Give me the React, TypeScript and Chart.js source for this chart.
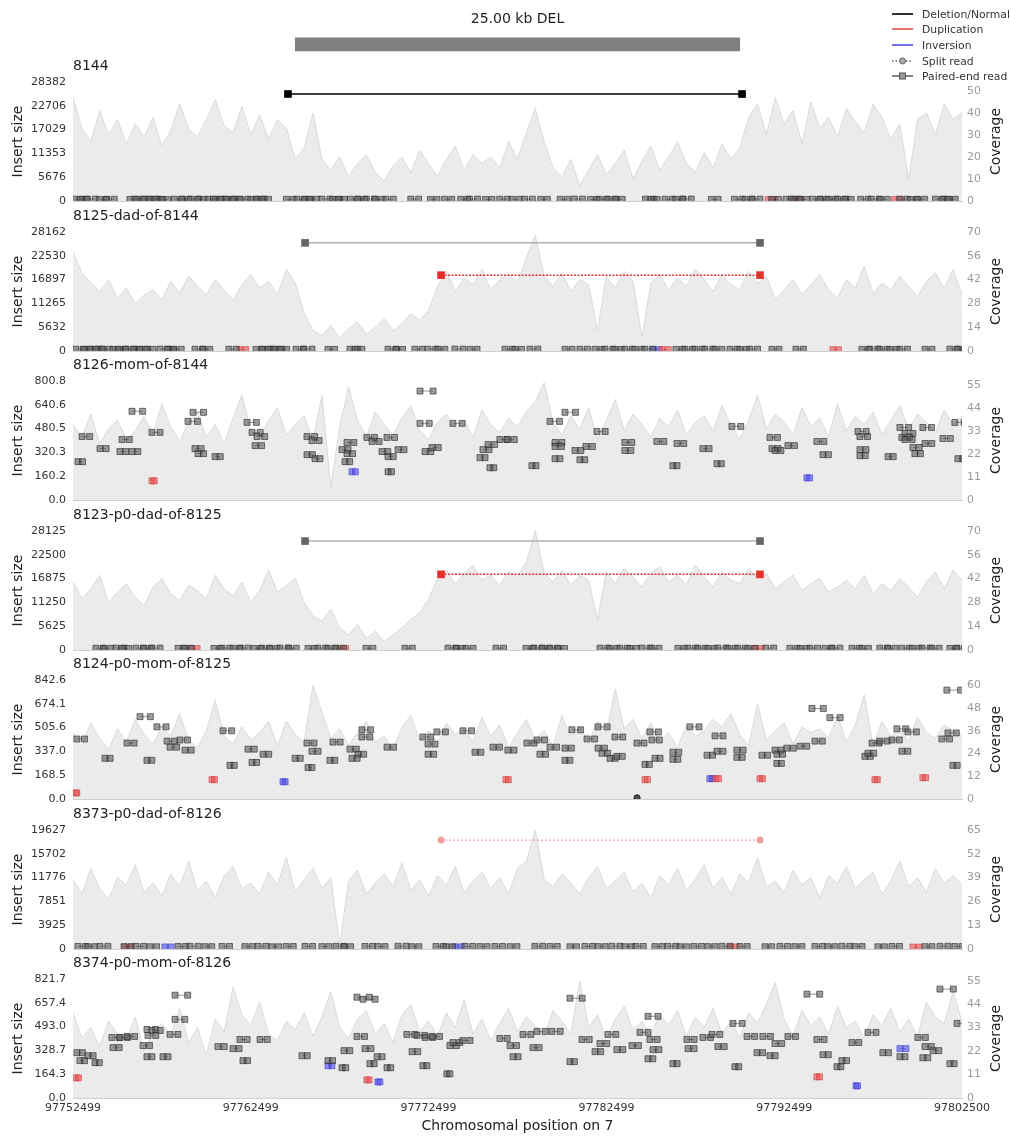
import React, { useEffect, useRef } from "react";
import { Chart, registerables } from "chart.js";
Chart.register(...registerables);

const FONT = '"DejaVu Sans", "Liberation Sans", sans-serif';
Chart.defaults.font.family = FONT;

// ---------------- data ----------------
const START = 97752499;
const END = 97802500;
const DEL_START = 97765000;
const DEL_END = 97790000;
const DEL_LABEL = "25.00 kb DEL";
const X_TICKS = [97752499, 97762499, 97772499, 97782499, 97792499, 97802500];
const X_TITLE = "Chromosomal position on 7";
const Y_TITLE = "Insert size";
const Y2_TITLE = "Coverage";
const COV_STEP_BP = 500;

const PANEL_TITLES = [
  "8144",
  "8125-dad-of-8144",
  "8126-mom-of-8144",
  "8123-p0-dad-of-8125",
  "8124-p0-mom-of-8125",
  "8373-p0-dad-of-8126",
  "8374-p0-mom-of-8126",
];

const INSERT_TICKS = [
  ["0", "5676", "11353", "17029", "22706", "28382"],
  ["0", "5632", "11265", "16897", "22530", "28162"],
  ["0.0", "160.2", "320.3", "480.5", "640.6", "800.8"],
  ["0", "5625", "11250", "16875", "22500", "28125"],
  ["0.0", "168.5", "337.0", "505.6", "674.1", "842.6"],
  ["0", "3925", "7851", "11776", "15702", "19627"],
  ["0.0", "164.3", "328.7", "493.0", "657.4", "821.7"],
];
const COVERAGE_TICKS = [
  [0, 10, 20, 30, 40, 50],
  [0, 14, 28, 42, 56, 70],
  [0, 11, 22, 33, 44, 55],
  [0, 14, 28, 42, 56, 70],
  [0, 12, 24, 36, 48, 60],
  [0, 13, 26, 39, 52, 65],
  [0, 11, 22, 33, 44, 55],
];
const COVERAGE_MAX = [54, 70, 56.8, 70, 62.7, 65, 55.8];

// coverage, one value per 500 bp
const COV_8144 = [
  47, 33, 27, 41, 30, 37, 26, 35, 29, 38, 25, 32, 44, 33, 29, 37, 46, 34, 31, 43, 30, 39, 28, 37,
  33, 19, 24, 40, 19, 14, 20, 11, 17, 21, 13, 9, 16, 20, 13, 23, 17, 11, 19, 25,
  14, 21, 17, 20, 15, 27, 19, 31, 42, 27, 15, 11, 19, 7, 14, 21, 12, 17, 23, 10,
  18, 25, 14, 20, 27, 17, 13, 22, 15, 26, 19, 24,
  38, 44, 30, 47, 35, 41, 26, 45, 33, 38, 29, 42, 36, 31, 44, 38, 28, 35, 10, 37, 40, 30, 44, 37, 40,
];
const COV_8125 = [
  58, 46, 40, 35, 42, 31, 37, 28, 33, 36, 30, 41, 34, 44, 38, 33, 42, 36, 30, 39, 45, 37, 41, 33, 48, 40,
  22, 12, 9, 15, 8, 13, 17, 10, 14, 19, 12, 16, 22, 18, 24,
  38, 47, 35, 43, 39, 48, 36, 42, 45, 40, 55, 68, 44, 38, 46, 35, 42, 39, 12, 44,
  37, 47, 41, 8, 40, 45, 36, 43, 38, 48, 42, 35, 45, 39, 36, 47, 40, 44, 30, 36,
  42, 33, 39, 45, 36, 31, 42, 37, 50, 34, 40, 36, 44, 38, 32, 41, 46, 37, 48, 33,
];
const COV_8126 = [
  36, 30, 41, 27, 34, 38, 29, 33, 40, 31, 46, 35, 28, 37, 42, 30, 36, 27, 39, 50,
  33, 29, 38, 44, 31, 36, 40, 28, 50, 6, 35, 54, 38, 30, 42, 36, 31, 39, 45, 33,
  29, 37, 41, 34, 38, 30, 43, 36, 32, 39, 35, 42, 47, 56, 37, 31, 40, 34, 44, 29,
  38, 48, 33, 41, 36, 30, 39, 35, 43, 31, 37, 40, 33, 45, 36, 29, 38, 50, 34, 41,
  37, 31, 44, 35, 39, 30, 46, 33, 40, 36, 42, 31, 38, 45, 34, 41, 37, 32, 43, 36, 40,
];
const COV_8123 = [
  40, 30, 36, 44, 28, 34, 39, 31, 26, 37, 42, 33, 29, 38, 35, 30, 44, 36, 32, 40, 28, 35, 47, 34, 38, 42,
  28, 20, 17, 24, 13, 9, 15, 7, 11, 5, 9, 13, 18, 22, 30,
  42, 47, 39, 45, 50, 41, 44, 38, 46, 43, 52, 70, 45, 40, 47, 38, 44, 41, 18, 46,
  39, 48, 43, 37, 45, 49, 40, 44, 38, 50, 43, 37, 46, 41, 39, 48, 42, 45, 36, 40,
  44, 35, 39, 42, 34, 37, 41, 36, 44, 33, 39, 35, 42, 37, 31, 40, 46, 36, 47, 41,
];
const COV_8124 = [
  35, 28, 40, 32, 26, 37, 30, 42, 34, 29, 38, 33, 45, 31, 27, 36, 52, 33, 29, 38,
  31, 35, 41, 28, 41, 34, 30, 60, 46, 32, 37, 28, 35, 41, 30, 33, 26, 38, 44, 31,
  36, 29, 40, 34, 37, 30, 43, 33, 39, 27, 35, 42, 31, 36, 28, 44, 33, 38, 30, 41,
  35, 58, 37, 42, 32, 40, 30, 35, 27, 39, 33, 36, 42, 38, 45, 34, 28, 50, 31, 36,
  40, 29, 38, 35, 37, 32, 44, 30, 39, 55, 28, 41, 33, 37, 30, 43, 35, 32, 39, 36, 34,
];
const COV_8373 = [
  38, 30, 44, 33, 27, 39, 35, 46, 31, 36, 29, 41, 34, 48, 32, 37, 28, 40, 45, 33,
  36, 30, 42, 35, 50, 31, 38, 44, 33, 39, 2, 37, 43, 30, 36, 41, 34, 47, 32, 38,
  29, 40, 35, 45, 31, 37, 42, 33, 39, 30, 44, 48, 65, 38, 34, 41, 36, 30, 39, 45,
  33, 37, 42, 31, 36, 28, 40, 35, 44, 32, 38, 46, 33, 39, 30, 41, 36, 50, 34, 37,
  31, 43, 35, 39, 28, 40, 36, 45, 33, 38, 42, 30, 37, 48, 34, 39, 31, 44, 36, 40, 35,
];
const COV_8374 = [
  40, 28, 33, 24, 36, 30, 27, 38, 22, 31, 35, 29, 42, 26, 33, 20, 37, 31, 52, 39,
  34, 45, 30, 27, 36, 32, 40, 29, 38, 50, 33, 28, 37, 41, 30, 35, 26, 39, 44, 31,
  36, 29, 40, 33, 46, 30, 37, 27, 35, 42, 31, 38, 34, 29, 41, 36, 30, 55, 33, 39,
  28, 37, 43, 32, 36, 30, 39, 34, 41, 29, 38, 33, 42, 30, 36, 28, 40, 35, 44, 54,
  37, 29, 41, 34, 38, 30, 43, 33, 36, 28, 39, 34, 42, 31, 37, 29, 45, 38, 35, 50, 36,
];

// read pairs: [offset from START in kb, insert size in bp]
const NORMAL_8144 = [
  [0.1, 410], [0.4, 380], [0.8, 450], [1.5, 360], [1.9, 420], [3.2, 390], [3.5, 440], [4.0, 370], [4.3, 460], [4.6, 400],
  [5.0, 350], [5.7, 430], [6.1, 395], [6.6, 470], [7.0, 380], [7.6, 415], [7.9, 440], [8.3, 365], [8.6, 455], [9.0, 390],
  [9.4, 420], [10.0, 375], [10.3, 445], [10.6, 400], [12.0, 385], [12.6, 430], [13.0, 360], [13.3, 410], [14.0, 450], [14.6, 395],
  [14.9, 370], [15.6, 425], [16.0, 400], [16.5, 460], [17.0, 380], [17.6, 415], [19.0, 440], [20.1, 370], [20.9, 405], [21.8, 390],
  [22.3, 450], [23.2, 365], [24.0, 420], [24.7, 395], [25.4, 435], [26.3, 380], [27.4, 410], [28.2, 455], [29.1, 370], [29.6, 400],
  [30.1, 425], [30.5, 390], [32.2, 445], [32.5, 360], [33.3, 415], [33.9, 400], [34.3, 470], [35.9, 385], [37.2, 420], [37.8, 395],
  [38.2, 440], [39.3, 375], [40.1, 410], [40.4, 450], [40.9, 365], [41.6, 430], [42.0, 400], [42.5, 385], [43.0, 455], [43.4, 370],
  [44.3, 415], [44.9, 440], [45.4, 390], [46.5, 425], [47.1, 360], [47.5, 405], [48.5, 445], [48.9, 380], [49.2, 420],
];
const DUP_8144 = [[39.1, 350], [40.6, 320], [46.2, 380]];

const NORMAL_8125 = [
  [0.17, 420], [0.62, 380], [0.96, 450], [1.29, 395], [1.63, 430], [2.25, 365], [2.53, 410], [2.98, 445], [3.37, 375], [3.77, 420],
  [4.11, 390], [4.89, 460], [5.29, 370], [5.68, 405], [6.86, 435], [7.31, 385], [8.77, 415], [10.29, 360], [10.63, 440], [10.97, 395],
  [11.3, 425], [11.64, 380], [12.54, 410], [12.99, 450], [14.34, 375], [15.58, 420], [15.86, 390], [17.72, 440], [18.17, 365], [19.23, 405],
  [19.97, 430], [20.53, 385], [21.48, 455], [22.33, 395], [24.3, 410], [24.86, 370], [25.7, 440], [27.67, 400], [28.51, 425], [29.36, 380],
  [29.92, 445], [30.48, 360], [31.04, 415], [31.6, 390], [32.17, 435], [33.91, 375], [34.42, 420], [34.98, 400], [35.54, 450], [36.11, 385],
  [36.95, 410], [37.51, 365], [38.07, 430], [39.31, 395], [40.66, 420], [44.37, 380], [44.82, 445], [45.38, 400], [45.95, 370], [46.51, 425],
  [47.92, 390], [49.32, 440], [49.72, 405],
];
const DUP_8125 = [[9.39, 330], [33.13, 350], [42.74, 310]];
const INV_8125 = [[32.62, 340]];

const NORMAL_8126 = [
  [0.51, 427], [0.28, 258], [3.32, 597], [2.76, 407], [1.52, 346], [2.64, 326], [3.32, 326], [4.44, 455], [6.75, 590], [6.47, 529],
  [6.86, 346], [7.03, 312], [7.99, 292], [9.79, 522], [10.07, 455], [10.35, 427], [10.24, 366], [13.16, 427], [13.44, 400], [13.16, 305],
  [13.61, 278], [15.13, 339], [15.41, 312], [15.3, 258], [15.41, 387], [16.53, 421], [16.82, 394], [17.66, 421], [17.38, 326], [17.72, 292],
  [17.72, 190], [18.28, 339], [19.52, 733], [19.52, 516], [21.37, 516], [19.8, 326], [20.19, 353], [22.89, 285], [23.06, 339], [23.34, 373],
  [23.45, 217], [24.01, 407], [24.41, 407], [25.81, 231], [26.83, 529], [27.11, 387], [27.11, 360], [27.11, 278], [27.67, 590], [28.23, 333],
  [28.51, 271], [28.85, 360], [29.47, 461], [31.04, 387], [31.04, 333], [32.84, 394], [33.97, 380], [33.74, 231], [35.43, 346], [36.22, 244],
  [37.06, 495], [39.2, 421], [39.31, 346], [39.48, 333], [40.21, 366], [41.84, 394], [42.18, 305], [44.15, 461], [44.26, 427], [44.26, 339],
  [44.26, 298], [45.84, 292], [46.51, 488], [46.79, 448], [46.62, 421], [46.79, 407], [47.24, 353], [47.35, 312], [47.8, 488], [47.92, 380],
  [48.93, 414], [49.6, 522], [49.77, 278],
];
const DUP_8126 = [[4.44, 129]];
const INV_8126 = [[15.69, 190], [41.28, 149]];

const NORMAL_8123 = [
  [1.29, 410], [1.74, 385], [2.42, 440], [2.76, 370], [3.54, 425], [3.99, 395], [4.44, 455], [5.91, 380], [6.24, 415], [7.93, 360],
  [8.38, 430], [9.0, 400], [9.39, 445], [10.18, 375], [10.63, 420], [11.08, 390], [11.64, 460], [12.15, 405], [13.22, 370], [13.78, 435],
  [14.34, 395], [14.79, 420], [16.48, 385], [18.67, 410], [21.09, 440], [21.54, 365], [22.1, 400], [23.79, 425], [25.48, 380], [25.93, 450],
  [26.38, 395], [26.83, 415], [27.28, 370], [29.64, 435], [30.2, 390], [30.76, 420], [31.32, 360], [32.0, 445], [32.56, 400], [34.02, 385],
  [34.59, 430], [35.15, 410], [35.71, 375], [36.27, 455], [36.84, 395], [37.4, 420], [37.96, 380], [38.97, 440], [40.32, 400], [40.89, 365],
  [41.45, 425], [42.29, 390], [42.69, 445], [43.81, 410], [44.37, 375], [45.38, 430], [45.84, 395], [46.62, 420], [47.19, 385], [47.75, 450],
  [48.31, 405], [49.32, 370], [49.72, 425],
];
const DUP_8123 = [[6.64, 340], [15.02, 320], [38.36, 350]];

const NORMAL_8124 = [
  [0.22, 425], [1.8, 288], [3.04, 396], [3.77, 583], [4.72, 511], [4.16, 274], [5.29, 410], [5.46, 367], [6.02, 418], [6.3, 346],
  [8.44, 483], [8.83, 238], [9.84, 353], [10.07, 259], [10.69, 317], [12.49, 288], [13.16, 396], [13.44, 338], [13.22, 223], [14.45, 274],
  [14.62, 403], [15.58, 353], [16.03, 317], [15.69, 288], [16.25, 490], [16.25, 439], [17.66, 367], [19.68, 439], [19.97, 389], [19.97, 317],
  [20.47, 475], [21.93, 483], [22.61, 331], [23.62, 367], [24.46, 346], [25.53, 396], [26.1, 418], [26.26, 317], [26.83, 367], [27.67, 360],
  [27.67, 274], [28.06, 490], [28.91, 425], [29.53, 360], [29.75, 324], [29.53, 511], [30.2, 288], [30.59, 302], [30.48, 439], [31.72, 396],
  [32.45, 475], [32.56, 418], [32.17, 245], [32.73, 288], [33.74, 331], [33.74, 281], [34.7, 511], [35.66, 310], [36.11, 447], [36.22, 338],
  [37.34, 346], [37.34, 295], [38.75, 310], [39.48, 346], [39.59, 317], [39.59, 252], [40.15, 360], [40.89, 374], [41.56, 641], [41.73, 410],
  [42.57, 576], [44.54, 302], [44.71, 324], [44.94, 396], [45.38, 410], [46.06, 418], [46.34, 497], [46.62, 338], [46.96, 475], [48.87, 425],
  [49.21, 468], [49.15, 771], [49.49, 238],
];
const DUP_8124 = [[0.17, 43], [7.82, 137], [24.35, 137], [32.17, 137], [36.16, 144], [38.64, 144], [45.1, 137], [47.8, 151]];
const INV_8124 = [[11.81, 122], [35.82, 144]];
const SPLIT_READS_8124 = [[31.72, 8]];

const NORMAL_8373 = [
  [0.28, 415], [0.84, 380], [1.52, 440], [2.87, 395], [3.54, 425], [4.33, 370], [5.91, 410], [6.58, 450], [7.42, 385], [8.38, 420],
  [9.67, 395], [10.41, 435], [11.19, 365], [11.98, 405], [13.05, 430], [14.0, 390], [14.79, 445], [15.24, 375], [16.42, 420], [17.15, 400],
  [18.28, 455], [19.07, 380], [20.42, 410], [20.98, 365], [22.05, 430], [22.89, 395], [23.73, 420], [24.58, 385], [25.98, 440], [26.83, 405],
  [27.95, 370], [28.79, 425], [29.53, 395], [30.31, 450], [31.04, 380], [31.66, 415], [32.73, 400], [33.46, 435], [34.14, 370], [34.92, 420],
  [35.71, 390], [36.5, 445], [37.51, 405], [38.92, 375], [39.76, 430], [40.6, 395], [41.73, 415], [42.46, 385], [43.25, 440], [43.98, 400],
  [45.27, 365], [46.06, 425], [47.92, 390], [48.76, 445], [49.6, 410],
];
const DUP_8373 = [[2.92, 330], [36.95, 350], [47.24, 320]];
const INV_8373 = [[5.17, 340], [21.48, 360]];

const NORMAL_8374 = [
  [0.22, 313], [0.39, 258], [0.84, 292], [1.24, 244], [2.25, 348], [2.19, 418], [2.64, 418], [3.04, 425], [3.94, 362], [4.16, 473],
  [4.44, 466], [4.22, 432], [4.16, 285], [5.06, 285], [5.46, 439], [5.74, 710], [5.74, 543], [8.15, 355], [9.0, 341], [9.39, 404],
  [9.56, 258], [10.52, 404], [12.88, 292], [14.34, 258], [15.13, 209], [15.24, 327], [15.97, 425], [15.97, 696], [16.31, 682], [16.42, 341],
  [16.7, 237], [17.1, 285], [17.66, 209], [18.78, 439], [19.35, 432], [19.8, 418], [20.19, 425], [19.07, 320], [19.68, 223], [21.03, 167],
  [21.2, 362], [21.37, 383], [21.93, 397], [24.01, 411], [24.58, 362], [24.75, 285], [25.31, 439], [25.87, 348], [26.1, 460], [26.94, 460],
  [27.95, 689], [27.95, 251], [28.63, 404], [29.36, 320], [29.64, 376], [30.09, 439], [30.59, 334], [31.44, 362], [31.89, 453], [32.34, 564],
  [32.45, 404], [32.62, 334], [32.34, 271], [33.74, 237], [34.53, 404], [35.43, 418], [34.59, 341], [35.94, 439], [36.27, 355], [37.12, 515],
  [37.23, 216], [37.91, 425], [38.8, 425], [38.47, 313], [39.2, 292], [39.48, 376], [40.21, 425], [41.28, 717], [41.84, 404], [42.18, 299],
  [42.97, 216], [43.25, 258], [43.81, 383], [44.71, 453], [45.55, 313], [46.51, 285], [47.52, 418], [47.92, 355], [47.8, 278], [48.37, 327],
  [48.76, 752], [49.32, 237], [49.72, 515],
];
const DUP_8374 = [[0.17, 139], [16.53, 125], [41.84, 146]];
const INV_8374 = [[14.34, 223], [17.15, 111], [44.04, 84], [46.51, 341]];

// SV evidence lines: [start offset kb, end offset kb, size bp]
const PE_LINE_8144 = [[12.09, 37.63, 25520]];
const PE_LINE_8125 = [[13.05, 38.64, 25590]];
const SPLIT_LINE_8125 = [[20.7, 38.64, 17950]];
const PE_LINE_8123 = [[13.05, 38.64, 25742]];
const SPLIT_LINE_8123 = [[20.7, 38.64, 17876]];
const SPLIT_LINE_8373 = [[20.7, 38.64, 17964]];

const LEGEND_LABELS = ["Deletion/Normal", "Duplication", "Inversion", "Split read", "Paired-end read"];

// ---------------- styling / layout ----------------
const WIDTH = 1011;
const PLOT_LEFT = 73;
const RIGHT_AXIS_W = WIDTH - 962;
const FIRST_TOP = 82;
const PANEL_STEP = 149.5;
const PLOT_H = 119;
const TITLE_H = 28;
const BOTTOM_PAD = 16;

const COV_FILL = "#ebebeb";
const COV_LINE = "#dadada";
const NORMAL_STYLE = { fill: "rgba(90,90,90,0.58)", edge: "rgba(40,40,40,0.62)", line: "rgba(70,70,70,0.55)" };
const DUP_STYLE = { fill: "rgba(235,80,80,0.6)", edge: "rgba(210,60,60,0.6)", line: "rgba(210,60,60,0.6)" };
const INV_STYLE = { fill: "rgba(80,80,235,0.6)", edge: "rgba(60,60,210,0.6)", line: "rgba(60,60,210,0.6)" };
const SPLIT_STYLE = { fill: "rgba(70,70,70,0.8)", edge: "rgba(40,40,40,0.8)", line: "rgba(40,40,40,0.8)" };

type Pair = number[];
interface LineEv { data: Pair[]; color: string; marker: string; style: "rect" | "circle"; dash: number[]; width: number }
interface PanelDef {
  cov: number[];
  normal: Pair[];
  dup: Pair[];
  inv: Pair[];
  split: Pair[];
  lines: LineEv[];
}

const PANELS: PanelDef[] = [
  { cov: COV_8144, normal: NORMAL_8144, dup: DUP_8144, inv: [], split: [],
    lines: [{ data: PE_LINE_8144, color: "#000000", marker: "#000000", style: "rect", dash: [], width: 1.5 }] },
  { cov: COV_8125, normal: NORMAL_8125, dup: DUP_8125, inv: INV_8125, split: [],
    lines: [
      { data: PE_LINE_8125, color: "#b0b0b0", marker: "#666666", style: "rect", dash: [], width: 1.5 },
      { data: SPLIT_LINE_8125, color: "#e8302c", marker: "#e8302c", style: "rect", dash: [2, 1.5], width: 1.5 },
    ] },
  { cov: COV_8126, normal: NORMAL_8126, dup: DUP_8126, inv: INV_8126, split: [], lines: [] },
  { cov: COV_8123, normal: NORMAL_8123, dup: DUP_8123, inv: [], split: [],
    lines: [
      { data: PE_LINE_8123, color: "#b0b0b0", marker: "#666666", style: "rect", dash: [], width: 1.5 },
      { data: SPLIT_LINE_8123, color: "#e8302c", marker: "#e8302c", style: "rect", dash: [2, 1.5], width: 1.5 },
    ] },
  { cov: COV_8124, normal: NORMAL_8124, dup: DUP_8124, inv: INV_8124, split: SPLIT_READS_8124, lines: [] },
  { cov: COV_8373, normal: NORMAL_8373, dup: DUP_8373, inv: INV_8373, split: [],
    lines: [{ data: SPLIT_LINE_8373, color: "rgba(240,150,150,0.9)", marker: "rgba(240,150,150,0.9)", style: "circle", dash: [2, 2], width: 1.2 }] },
  { cov: COV_8374, normal: NORMAL_8374, dup: DUP_8374, inv: INV_8374, split: [], lines: [] },
];

function pairData(pairs: Pair[]) {
  const out: { x: number; y: number | null }[] = [];
  for (const [kb, ins] of pairs) {
    const s = START + kb * 1000;
    out.push({ x: s, y: ins }, { x: s + ins, y: ins }, { x: s + ins, y: null });
  }
  return out;
}
function lineData(lines: Pair[]) {
  const out: { x: number; y: number | null }[] = [];
  for (const [a, b, size] of lines) {
    out.push({ x: START + a * 1000, y: size }, { x: START + b * 1000, y: size }, { x: START + b * 1000, y: null });
  }
  return out;
}
function pairDataset(pairs: Pair[], st: { fill: string; edge: string; line: string }, shape = "rect", dash: number[] = []) {
  return {
    type: "scatter",
    data: pairData(pairs),
    showLine: true,
    spanGaps: false,
    borderColor: st.line,
    borderWidth: 1,
    borderDash: dash,
    pointStyle: shape,
    pointRadius: shape === "rect" ? 4.2 : 3,
    pointBackgroundColor: st.fill,
    pointBorderColor: st.edge,
    pointBorderWidth: 1,
    yAxisID: "y",
    order: 1,
  };
}

const rightTitlePlugin = {
  id: "rightTitle",
  afterDraw(chart: any, _args: any, opts: any) {
    if (!opts || !opts.text) return;
    const { ctx, chartArea } = chart;
    ctx.save();
    ctx.font = `14px ${FONT}`;
    ctx.fillStyle = "#222";
    ctx.textAlign = "center";
    ctx.textBaseline = "middle";
    ctx.translate(opts.x, (chartArea.top + chartArea.bottom) / 2);
    ctx.rotate(-Math.PI / 2);
    ctx.fillText(opts.text, 0, 0);
    ctx.restore();
  },
};

function panelConfig(i: number, isLast: boolean): any {
  const p = PANELS[i];
  const yLabels = INSERT_TICKS[i];
  const yVals = yLabels.map(Number);
  const covTicks = COVERAGE_TICKS[i];
  const datasets: any[] = [];
  datasets.push({
    type: "line",
    data: p.cov.map((v, k) => ({ x: START + k * COV_STEP_BP, y: v })),
    yAxisID: "y2",
    fill: "origin",
    backgroundColor: COV_FILL,
    borderColor: COV_LINE,
    borderWidth: 1,
    pointRadius: 0,
    tension: 0,
    order: 10,
  });
  datasets.push(pairDataset(p.normal, NORMAL_STYLE));
  if (p.dup.length) datasets.push(pairDataset(p.dup, DUP_STYLE));
  if (p.inv.length) datasets.push(pairDataset(p.inv, INV_STYLE));
  if (p.split.length) datasets.push(pairDataset(p.split, SPLIT_STYLE, "circle", [2, 2]));
  for (const l of p.lines) {
    datasets.push({
      type: "scatter",
      data: lineData(l.data),
      showLine: true,
      spanGaps: false,
      borderColor: l.color,
      borderWidth: l.width,
      borderDash: l.dash,
      pointStyle: l.style,
      pointRadius: l.style === "rect" ? 5.4 : 3.5,
      pointBackgroundColor: l.marker,
      pointBorderColor: l.marker,
      pointBorderWidth: 0,
      yAxisID: "y",
      order: 0,
    });
  }
  return {
    type: "scatter",
    data: { datasets },
    plugins: [rightTitlePlugin],
    options: {
      responsive: false,
      animation: false,
      devicePixelRatio: 1,
      events: [],
      layout: { padding: { top: 0, left: 0, right: 0, bottom: isLast ? 0 : BOTTOM_PAD } },
      plugins: {
        legend: { display: false },
        tooltip: { enabled: false },
        title: {
          display: true,
          text: PANEL_TITLES[i],
          align: "start",
          fullSize: false,
          color: "#222",
          font: { size: 14, weight: "normal", family: FONT },
          padding: { top: 4, bottom: 7.2 },
        },
        rightTitle: { text: Y2_TITLE, x: 996 },
      },
      scales: {
        x: {
          type: "linear",
          min: START,
          max: END,
          display: true,
          grid: { display: false, drawTicks: false },
          border: { display: true, color: "#cfcfcf", width: 1 },
          afterBuildTicks: (s: any) => {
            s.ticks = X_TICKS.map((v) => ({ value: v }));
          },
          ticks: isLast
            ? {
                display: true,
                autoSkip: false,
                maxRotation: 0,
                color: "#333",
                font: { size: 11, family: FONT },
                padding: 4,
                callback: (_v: any, k: number) => String(X_TICKS[k]),
              }
            : { display: false },
          title: isLast
            ? { display: true, text: X_TITLE, color: "#222", font: { size: 14, family: FONT }, padding: { top: 0, bottom: 3 } }
            : { display: false },
          afterFit: (s: any) => {
            s.height = isLast ? 40 : 0;
          },
        },
        y: {
          position: "left",
          min: 0,
          max: yVals[yVals.length - 1],
          grid: { display: false, drawTicks: false },
          border: { display: false },
          afterBuildTicks: (s: any) => {
            s.ticks = yVals.map((v) => ({ value: v }));
          },
          ticks: {
            autoSkip: false,
            color: "#333",
            font: { size: 11, family: FONT },
            padding: 7,
            callback: (_v: any, k: number) => yLabels[k] ?? "",
          },
          title: { display: true, text: Y_TITLE, color: "#222", font: { size: 14, family: FONT }, padding: { top: 10, bottom: 0 } },
          afterFit: (s: any) => {
            s.width = PLOT_LEFT;
          },
        },
        y2: {
          position: "right",
          min: 0,
          max: COVERAGE_MAX[i],
          grid: { display: false, drawTicks: false, drawOnChartArea: false },
          border: { display: false },
          afterBuildTicks: (s: any) => {
            s.ticks = covTicks.map((v) => ({ value: v }));
          },
          ticks: {
            autoSkip: false,
            color: "#9a9a9a",
            font: { size: 11, family: FONT },
            padding: 5,
            callback: (_v: any, k: number) => String(covTicks[k] ?? ""),
          },
          afterFit: (s: any) => {
            s.width = RIGHT_AXIS_W;
          },
        },
      },
    },
  };
}

function Panel({ index }: { index: number }) {
  const ref = useRef<HTMLCanvasElement>(null);
  const isLast = index === PANELS.length - 1;
  const top = Math.round(FIRST_TOP + index * PANEL_STEP - TITLE_H);
  const h = isLast ? 1138 - top : TITLE_H + PLOT_H + BOTTOM_PAD;
  useEffect(() => {
    const chart = new Chart(ref.current as HTMLCanvasElement, panelConfig(index, isLast));
    return () => chart.destroy();
  }, [index, isLast]);
  return (
    <canvas
      ref={ref}
      width={WIDTH}
      height={h}
      style={{ position: "absolute", left: 0, top, width: WIDTH, height: h }}
    />
  );
}

function DelBar() {
  const ref = useRef<HTMLCanvasElement>(null);
  useEffect(() => {
    const chart = new Chart(ref.current as HTMLCanvasElement, {
      type: "bar",
      data: {
        labels: ["DEL"],
        datasets: [{ data: [[DEL_START, DEL_END]] as any, backgroundColor: "#808080", barThickness: 13 }],
      },
      options: {
        indexAxis: "y",
        responsive: false,
        animation: false,
        devicePixelRatio: 1,
        events: [],
        layout: { padding: { left: PLOT_LEFT, right: RIGHT_AXIS_W, top: 0, bottom: 8 } },
        plugins: {
          legend: { display: false },
          tooltip: { enabled: false },
          title: {
            display: true,
            text: DEL_LABEL,
            fullSize: false,
            color: "#222",
            font: { size: 14, weight: "normal", family: FONT },
            padding: { top: 11, bottom: 9 },
          },
        },
        scales: {
          x: { type: "linear", min: START, max: END, display: false },
          y: { type: "category", display: false },
        },
      } as any,
    });
    return () => chart.destroy();
  }, []);
  return <canvas ref={ref} width={WIDTH} height={60} style={{ position: "absolute", left: 0, top: 0, width: WIDTH, height: 60 }} />;
}

function LegendSample({ k }: { k: number }) {
  const colors = ["#000000", "#e05050", "#5050e0", "#666666", "#666666"];
  const c = colors[k];
  return (
    <svg width={24} height={12} style={{ display: "block" }}>
      <line x1={1} y1={6} x2={22} y2={6} stroke={c} strokeWidth={1.6} strokeDasharray={k === 3 ? "1.5,2" : undefined} />
      {k === 3 && <circle cx={11.5} cy={6} r={3} fill="#aaaaaa" stroke="#666" strokeWidth={1} />}
      {k === 4 && <rect x={8.5} y={3} width={6} height={6} fill="#999" stroke="#555" strokeWidth={1} />}
    </svg>
  );
}

function Legend() {
  return (
    <div style={{ position: "absolute", left: 0, top: 0 }}>
      {LEGEND_LABELS.map((lab, k) => (
        <div
          key={lab}
          style={{
            position: "absolute",
            left: 891,
            top: Math.round(13.5 + k * 15.7 - 7),
            height: 14,
            display: "flex",
            alignItems: "center",
            whiteSpace: "nowrap",
            font: `10.8px ${FONT}`,
            color: "#333",
          }}
        >
          <LegendSample k={k} />
          <span style={{ marginLeft: 7 }}>{lab}</span>
        </div>
      ))}
    </div>
  );
}

export default function App() {
  return (
    <div style={{ position: "absolute", left: 0, top: 0, width: WIDTH, height: 1138, background: "#fff", overflow: "hidden" }}>
      <DelBar />
      {PANELS.map((_, i) => (
        <Panel key={i} index={i} />
      ))}
      <Legend />
    </div>
  );
}
